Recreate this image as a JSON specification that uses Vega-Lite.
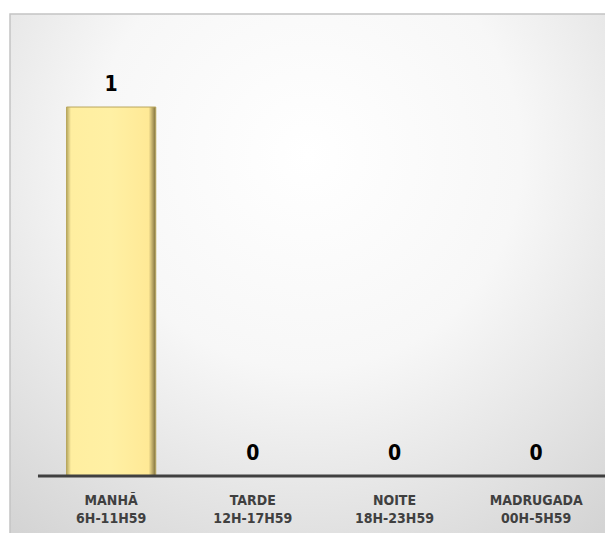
{
  "$schema": "https://vega.github.io/schema/vega-lite/v6.json",
  "autosize": "none",
  "padding": {"left": 10, "top": 14, "right": 0, "bottom": 0},
  "width": 595,
  "height": 519,
  "background": "#ffffff",
  "config": {
    "view": {
      "stroke": "#c4c4c4",
      "strokeWidth": 1.5,
      "strokeDash": [1114, 1114],
      "strokeDashOffset": 519,
      "fill": {
        "gradient": "radial",
        "x1": 0.5, "y1": 0.3, "r1": 0,
        "x2": 0.5, "y2": 0.3, "r2": 0.8,
        "stops": [
          {"offset": 0, "color": "#ffffff"},
          {"offset": 0.45, "color": "#f7f7f7"},
          {"offset": 1, "color": "#d4d4d4"}
        ]
      }
    },
    "text": {"font": "DejaVu Sans Condensed, sans-serif", "fontWeight": "bold"}
  },
  "data": {
    "values": [
      {"periodo": "MANHÃ", "horario": "6H-11H59", "valor": 1},
      {"periodo": "TARDE", "horario": "12H-17H59", "valor": 0},
      {"periodo": "NOITE", "horario": "18H-23H59", "valor": 0},
      {"periodo": "MADRUGADA", "horario": "00H-5H59", "valor": 0}
    ]
  },
  "encoding": {
    "x": {
      "field": "periodo",
      "type": "nominal",
      "sort": null,
      "axis": null,
      "scale": {"paddingInner": 0.37, "paddingOuter": 0.285, "align": 0.7}
    }
  },
  "layer": [
    {
      "mark": {
        "type": "bar",
        "stroke": "#b9a75e",
        "strokeWidth": 1,
        "color": {
          "gradient": "linear",
          "x1": 0, "y1": 0, "x2": 1, "y2": 0,
          "stops": [
            {"offset": 0, "color": "#b5a660"},
            {"offset": 0.05, "color": "#ffeea0"},
            {"offset": 0.5, "color": "#fff0a4"},
            {"offset": 0.92, "color": "#ffe996"},
            {"offset": 1, "color": "#7d6e3c"}
          ]
        }
      },
      "encoding": {
        "y": {
          "field": "valor",
          "type": "quantitative",
          "axis": null,
          "scale": {"domain": [-0.1544, 1.2521], "nice": false, "zero": false}
        }
      }
    },
    {
      "mark": {"type": "text", "baseline": "bottom", "dy": -12, "fontSize": 21, "color": "#000000"},
      "encoding": {
        "y": {"field": "valor", "type": "quantitative"},
        "text": {"field": "valor", "type": "quantitative"}
      }
    },
    {
      "mark": {"type": "text", "baseline": "middle", "dy": 25, "fontSize": 14, "color": "#404040"},
      "encoding": {
        "y": {"datum": 0, "type": "quantitative"},
        "text": {"field": "periodo"}
      }
    },
    {
      "mark": {"type": "text", "baseline": "middle", "dy": 43, "fontSize": 14, "color": "#404040"},
      "encoding": {
        "y": {"datum": 0, "type": "quantitative"},
        "text": {"field": "horario"}
      }
    },
    {
      "data": {"values": [{"base": 0}]},
      "mark": {"type": "rule", "color": "#404040", "strokeWidth": 3},
      "encoding": {
        "x": {"datum": "MANHÃ", "bandPosition": -0.32},
        "x2": {"value": "width"},
        "y": {"field": "base", "type": "quantitative"}
      }
    }
  ]
}
